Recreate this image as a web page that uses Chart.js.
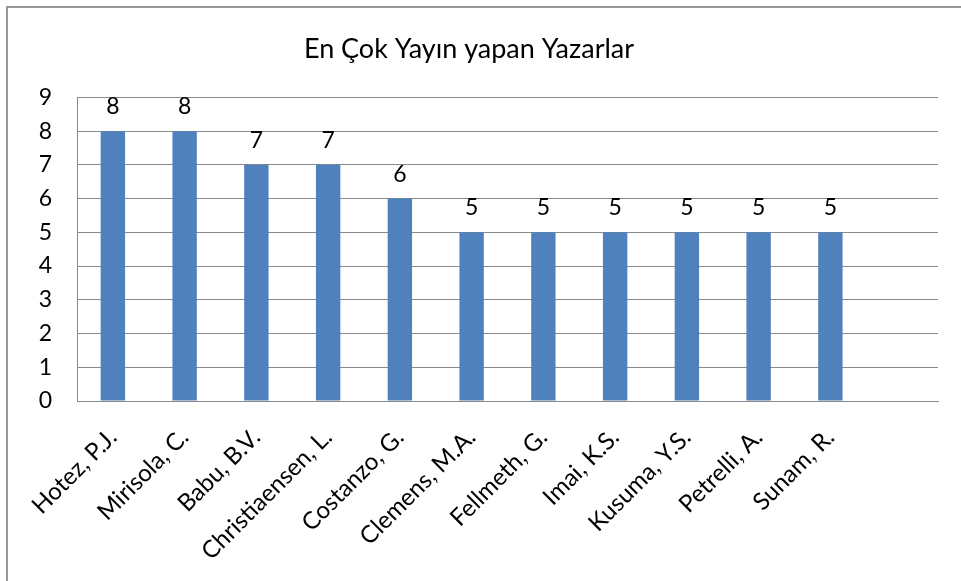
<!doctype html>
<html lang="tr">
<head>
    <title>En Çok Yayın yapan Yazarlar</title>
    <meta charset="utf-8">
    <script src="https://cdn.jsdelivr.net/npm/chart.js@4.4.0/dist/chart.umd.min.js"></script>
    <style>
        body { margin: 0; background: #fff; }
        #wrap { position: relative; width: 961px; height: 581px; overflow: hidden; }
        #frame { position: absolute; left: 6px; top: 6px; right: 0; bottom: 0;
                 border-left: 2px solid #999; border-top: 2px solid #999; pointer-events: none; }
    </style>
</head>
<body>
<div id="wrap">
    <canvas id="authorsChart" width="961" height="581"></canvas>
    <div id="frame"></div>
</div>
<script>
    const authors = ['Hotez, P.J.', 'Mirisola, C.', 'Babu, B.V.', 'Christiaensen, L.', 'Costanzo, G.',
        'Clemens, M.A.', 'Fellmeth, G.', 'Imai, K.S.', 'Kusuma, Y.S.', 'Petrelli, A.', 'Sunam, R.', ''];
    const publications = [8, 8, 7, 7, 6, 5, 5, 5, 5, 5, 5, null];
    const yTicks = [0, 1, 2, 3, 4, 5, 6, 7, 8, 9];

    const FONT = 'Lato, "Open Sans", sans-serif';
    const GRID = '#8a8a8a';

    // value labels above each bar
    const barValues = {
        id: 'barValues',
        afterDatasetsDraw(chart) {
            const ctx = chart.ctx;
            const meta = chart.getDatasetMeta(0);
            ctx.save();
            ctx.font = '23px ' + FONT;
            ctx.fillStyle = '#000';
            ctx.textAlign = 'center';
            ctx.textBaseline = 'alphabetic';
            meta.data.forEach(function (bar, i) {
                const v = publications[i];
                if (v === null) return;
                ctx.fillText(String(v), bar.x, bar.y - 17);
            });
            ctx.restore();
        }
    };

    var ctx = document.getElementById('authorsChart').getContext('2d');
    var chart = new Chart(ctx, {
        type: 'bar',
        data: {
            labels: authors,
            datasets: [{
                label: 'Yayın',
                data: publications,
                backgroundColor: '#4F81BD',
                borderWidth: 0,
                barPercentage: 1,
                categoryPercentage: 0.34
            }]
        },
        plugins: [barValues],
        options: {
            responsive: false,
            animation: false,
            layout: { padding: { left: 0, right: 23, top: 0, bottom: 0 } },
            plugins: {
                legend: { display: false },
                tooltip: { enabled: false },
                title: {
                    display: true,
                    text: 'En Çok Yayın yapan Yazarlar',
                    color: '#000',
                    font: { family: FONT, size: 27, weight: 'normal' },
                    padding: { top: 33, bottom: 32 }
                }
            },
            scales: {
                x: {
                    grid: { display: false },
                    border: { display: true, color: GRID, width: 1 },
                    ticks: {
                        color: '#000',
                        font: { family: FONT, size: 24 },
                        minRotation: 45,
                        maxRotation: 45,
                        autoSkip: false,
                        padding: 14
                    },
                    afterFit: function (scale) { scale.height = 180; }
                },
                y: {
                    min: 0,
                    max: 9,
                    afterBuildTicks: function (scale) {
                        scale.ticks = yTicks.map(function (v) { return { value: v }; });
                    },
                    grid: { color: GRID, lineWidth: 1, drawTicks: false },
                    border: { display: true, color: GRID, width: 1 },
                    ticks: {
                        color: '#000',
                        font: { family: FONT, size: 23 },
                        padding: 25
                    },
                    afterFit: function (scale) { scale.width = 77; }
                }
            }
        }
    });
</script>
</body>
</html>
